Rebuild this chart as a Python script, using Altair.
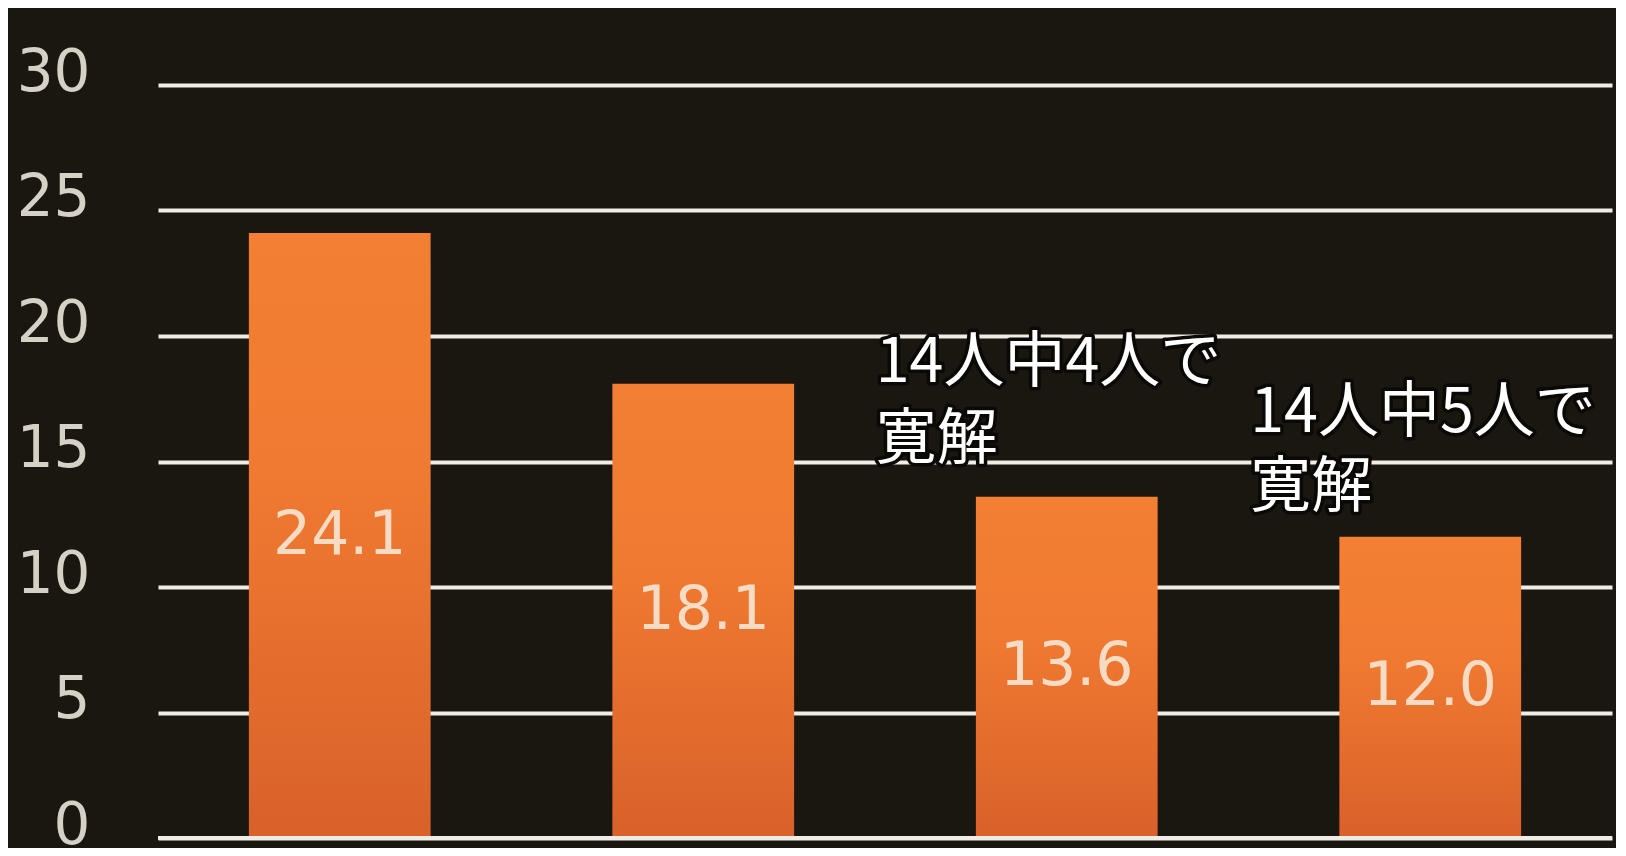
import altair as alt
import pandas as pd

categories = ["群1", "群2", "群3", "群4"]
values = [24.1, 18.1, 13.6, 12.0]
value_labels = ["24.1", "18.1", "13.6", "12.0"]
y_ticks = [0, 5, 10, 15, 20, 25, 30]

ann1_lines = ["14人中4人で", "寛解"]
ann1_y = [18.9, 15.8]
ann2_lines = ["14人中5人で", "寛解"]
ann2_y = [16.9, 13.9]

df = pd.DataFrame({"cat": categories, "v": values, "lab": value_labels})
df["half"] = df["v"] / 2
ann1 = pd.DataFrame({"cat": categories[2], "t": ann1_lines, "y": ann1_y})
ann2 = pd.DataFrame({"cat": categories[3], "t": ann2_lines, "y": ann2_y})

xenc = alt.X("cat:N", sort=categories, axis=None,
             scale=alt.Scale(paddingInner=0.5, paddingOuter=0.25))
yscale = alt.Scale(domain=[0, 30], nice=False)

bars = alt.Chart(df).mark_bar(
    color=alt.Gradient(
        gradient="linear", x1=0, y1=0, x2=0, y2=1,
        stops=[alt.GradientStop(color="#f27f33", offset=0),
               alt.GradientStop(color="#f07a31", offset=0.4),
               alt.GradientStop(color="#d9612a", offset=1)],
    )
).encode(
    x=xenc,
    y=alt.Y("v:Q", scale=yscale, axis=alt.Axis(
        values=y_ticks, title=None, domain=False, ticks=False,
        grid=True, gridColor="#f1ede6", gridWidth=4, gridOpacity=1,
        labelFont="DejaVu Sans", labelFontSize=58, labelColor="#d6d1c7",
        labelPadding=68, labelOffset=-12, labelBound=False, labelFlush=False,
    )),
)

baseline = alt.Chart(df).mark_rule(color="#f1ede6", strokeWidth=4).encode(
    y=alt.datum(0, scale=yscale)
)

labels = alt.Chart(df).mark_text(
    font="DejaVu Sans", fontSize=60, color="#f6dcc4", baseline="middle"
).encode(x=xenc, y=alt.Y("half:Q", scale=yscale), text="lab:N")

layers = [bars, baseline, labels]
for adf, dx in [(ann1, -191), (ann2, -180)]:
    for stroke in (True, False):
        props = dict(font="Noto Sans CJK JP", fontSize=61, align="left",
                     baseline="middle", dx=dx, fill="#ffffff")
        if stroke:
            props.update(stroke="#0b0906", strokeWidth=7, strokeJoin="round")
        layers.append(
            alt.Chart(adf).mark_text(**props).encode(
                x=xenc, y=alt.Y("y:Q", scale=yscale), text="t:N"
            )
        )

chart = alt.layer(*layers).properties(
    width=1454, height=753,
    padding={"left": 150, "top": 77, "right": 4, "bottom": 10},
    autosize=alt.AutoSizeParams(type="none"),
    background="#1a1610",
).configure_view(stroke=None)

chart.save("out.html", embed_options={"renderer": "svg", "actions": False})
